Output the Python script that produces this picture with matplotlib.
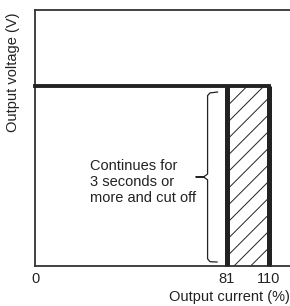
import matplotlib
matplotlib.use("Agg")
import matplotlib.pyplot as plt
import numpy as np

# schematic values (percent of rated)
rated_voltage = 100
limit_start = 81       # current where hiccup/cut-off region starts
limit_end = 110        # overcurrent point
tick_values = [0, 81, 110]
tick_labels = ["0", "81", "110"]
note_text = "Continues for\n3 seconds or\nmore and cut off"

# drawing is not to scale: piecewise axis (data -> pixel offset)
scale_data = [0, 81, 110, 120]
scale_px = [0, 191.5, 234, 255]


def fwd(x):
    return np.interp(x, scale_data, scale_px)


def inv(p):
    return np.interp(p, scale_px, scale_data)


plt.rcParams["font.family"] = ["Liberation Sans", "DejaVu Sans"]
plt.rcParams["hatch.linewidth"] = 0.7
plt.rcParams["hatch.color"] = "#222222"

W, H = 290, 306
fig = plt.figure(figsize=(W / 100, H / 100), dpi=100)
ax = fig.add_axes([35 / W, (H - 266) / H, 255 / W, 256 / H])
ax.set_xscale("function", functions=(fwd, inv))
ax.set_xlim(0, 120)
ax.set_ylim(0, 142)

ink = "#222222"

# hatched cut-off region
ax.fill_between([limit_start, limit_end], 0, rated_voltage,
                facecolor="white", edgecolor=ink, hatch="//", linewidth=0, zorder=1)

# characteristic lines
ax.plot([0, limit_end], [rated_voltage, rated_voltage], color=ink, lw=2.8,
        solid_capstyle="projecting", clip_on=False, zorder=3)
for xv in (limit_start, limit_end):
    ax.plot([xv, xv], [0, rated_voltage], color=ink, lw=3.6,
            solid_capstyle="butt", clip_on=False, zorder=3)

# brace
bx = [77.2, 74, 73, 73, 71.5, 68, 71.5, 73, 73, 74, 77]
by = [96.5, 96, 94.5, 51, 49.6, 49.4, 49.2, 47.8, 4, 2.4, 2.2]
ax.plot(bx, by, color=ink, lw=0.9, zorder=3)

ax.text(23.3, 46.6, note_text, ha="left", va="center", fontsize=10.5,
        linespacing=1.15, color=ink)

for side in ("left", "top", "bottom"):
    ax.spines[side].set_linewidth(1.3)
    ax.spines[side].set_color("#333333")
ax.spines["right"].set_visible(False)

ax.set_yticks([])
ax.set_xticks(tick_values, tick_labels)
ax.xaxis.set_minor_locator(matplotlib.ticker.NullLocator())
ax.tick_params(axis="x", length=0, pad=4, labelsize=10.5, labelcolor=ink)

fig.text(290 / W, 1 - 297 / H, "Output current (%)", ha="right", va="center",
         fontsize=10.5, color=ink)
fig.text(13 / W, 1 - 72 / H, "Output voltage (V)", ha="center", va="center",
         rotation=90, fontsize=10.5, color=ink)

fig.savefig("out.png", dpi=100)
